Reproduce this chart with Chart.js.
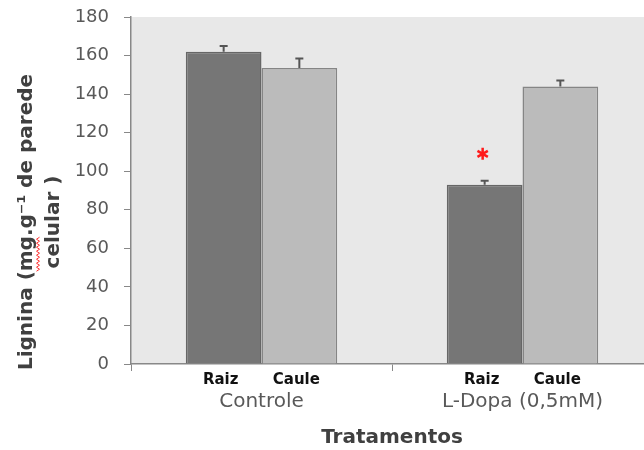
<!DOCTYPE html>
<html>
<head>
<meta charset="utf-8">
<script src="https://cdn.jsdelivr.net/npm/chart.js@4.4.0/dist/chart.umd.min.js"></script>
<style>
  html, body { margin: 0; padding: 0; background: #fff; overflow: hidden; }
  #wrap { width: 644px; height: 450px; overflow: hidden; }
</style>
</head>
<body>
<div id="wrap"><canvas id="lignina" width="660" height="450"></canvas></div>
<script>
// data
const categories = ['Controle', 'L-Dopa (0,5mM)'];
const seriesNames = ['Raiz', 'Caule'];
const raiz = [162, 93];
const raizErr = [3, 2];
const caule = [153.5, 144];
const cauleErr = [5, 3];
const raizSignificant = [false, true];
const yMin = 0, yMax = 180, yStep = 20;

const errors = [raizErr, cauleErr];

// grey plot background
const plotBg = {
  id: 'plotBg',
  beforeDraw(chart) {
    const {ctx, chartArea: a} = chart;
    ctx.save();
    ctx.fillStyle = '#e8e8e8';
    ctx.fillRect(a.left, a.top, a.right - a.left, a.bottom - a.top);
    ctx.restore();
  }
};

// error bars (upper half only), bar sub-labels and the asterisk
const extras = {
  id: 'extras',
  afterDatasetsDraw(chart) {
    const {ctx, scales: {y}} = chart;
    ctx.save();
    chart.data.datasets.forEach((ds, di) => {
      const meta = chart.getDatasetMeta(di);
      meta.data.forEach((bar, i) => {
        const top = y.getPixelForValue(ds.data[i] + errors[di][i]);
        ctx.strokeStyle = '#555';
        ctx.lineWidth = 2;
        ctx.beginPath();
        ctx.moveTo(bar.x, bar.y);
        ctx.lineTo(bar.x, top);
        ctx.moveTo(bar.x - 4, top);
        ctx.lineTo(bar.x + 4, top);
        ctx.stroke();

        // sub label under the bar
        ctx.fillStyle = '#111';
        ctx.font = 'bold 15px "DejaVu Sans"';
        ctx.textAlign = 'center';
        ctx.textBaseline = 'middle';
        ctx.fillText(seriesNames[di], bar.x - 3, chart.chartArea.bottom + 16);

        if (di === 0 && raizSignificant[i]) {
          const cx = bar.x - 2, cy = top - 27, r = 6;
          ctx.strokeStyle = '#ff1a1a';
          ctx.lineWidth = 2.5;
          ctx.beginPath();
          for (let k = 0; k < 3; k++) {
            const ang = Math.PI / 2 + k * Math.PI / 3;
            ctx.moveTo(cx + r * Math.cos(ang), cy + r * Math.sin(ang));
            ctx.lineTo(cx - r * Math.cos(ang), cy - r * Math.sin(ang));
          }
          ctx.stroke();
        }
      });
    });
    ctx.restore();
  }
};

// rotated y axis title in two lines
const yTitle = {
  id: 'yTitle',
  afterDraw(chart) {
    const {ctx} = chart;
    ctx.save();
    ctx.fillStyle = '#404040';
    ctx.font = 'bold 20px "DejaVu Sans"';
    ctx.textAlign = 'center';
    ctx.textBaseline = 'middle';
    ctx.translate(27, 222);
    ctx.rotate(-Math.PI / 2);
    const line1 = 'Lignina (mg.g\u207B\u00B9 de parede';
    ctx.fillText(line1, 0, 0);
    // spell-check squiggle under "mg"
    const w = ctx.measureText(line1).width;
    const x0 = -w / 2 + ctx.measureText('Lignina (').width;
    const x1 = x0 + ctx.measureText('mg').width;
    ctx.strokeStyle = '#ff3030';
    ctx.lineWidth = 1;
    ctx.beginPath();
    for (let x = x0, k = 0; x <= x1; x += 2, k++) {
      const yy = 11 + (k % 2 ? 1.5 : -1.5);
      if (k === 0) ctx.moveTo(x, yy); else ctx.lineTo(x, yy);
    }
    ctx.stroke();
    ctx.fillText('celular )', 0, 27);
    ctx.restore();
  }
};

new Chart(document.getElementById('lignina'), {
  type: 'bar',
  data: {
    labels: categories,
    datasets: [
      {
        label: seriesNames[0],
        data: raiz,
        backgroundColor: '#767676',
        borderColor: '#666666',
        borderWidth: 1.5
      }, {
        label: seriesNames[1],
        data: caule,
        backgroundColor: '#bbbbbb',
        borderColor: '#858585',
        borderWidth: 1.5
      }
    ]
  },
  options: {
    responsive: false,
    animation: false,
    devicePixelRatio: 1,
    layout: { padding: { top: 17, right: 7, left: 0, bottom: 0 } },
    plugins: {
      legend: { display: false },
      tooltip: { enabled: false }
    },
    datasets: {
      bar: { categoryPercentage: 0.58, barPercentage: 1 }
    },
    scales: {
      x: {
        offset: true,
        afterFit(scale) {
          scale.height = 86;
          scale.paddingLeft = 0;
          scale.paddingRight = 0;
        },
        grid: {
          display: true,
          offset: true,
          drawOnChartArea: false,
          tickLength: 7,
          color: '#888'
        },
        border: { color: '#888', width: 1.5 },
        ticks: {
          padding: 19,
          color: '#595959',
          font: { family: 'DejaVu Sans', size: 20 }
        },
        title: {
          display: true,
          text: 'Tratamentos',
          color: '#404040',
          font: { family: 'DejaVu Sans', size: 20, weight: 'bold' },
          padding: { top: 0, bottom: 0 }
        }
      },
      y: {
        min: yMin,
        max: yMax,
        afterFit(scale) {
          scale.width = 131;
          scale.paddingTop = 0;
          scale.paddingBottom = 0;
        },
        grid: {
          display: true,
          drawOnChartArea: false,
          tickLength: 7,
          color: '#888'
        },
        border: { color: '#888', width: 1.5 },
        ticks: {
          stepSize: yStep,
          padding: 15,
          color: '#595959',
          font: { family: 'DejaVu Sans', size: 18 }
        }
      }
    }
  },
  plugins: [plotBg, extras, yTitle]
});
</script>
</body>
</html>
